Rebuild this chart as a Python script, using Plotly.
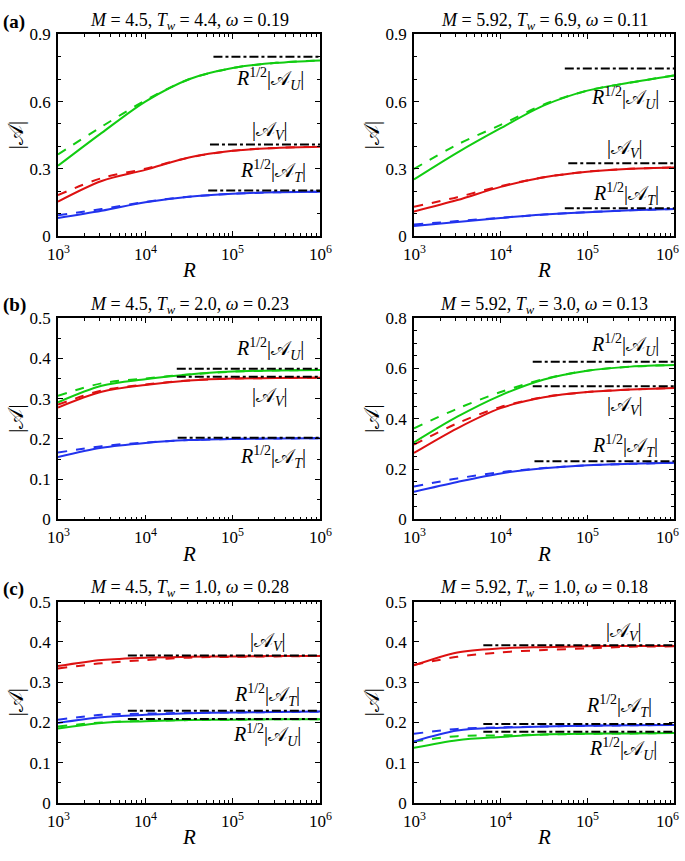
import plotly.graph_objects as go

# ---------------- data ----------------
LOG_R = [3.0, 3.5, 4.0, 4.5, 5.0, 5.5, 6.0]
R_VALUES = [10 ** v for v in LOG_R]
X_TICK_EXP = [3, 4, 5, 6]
X_TICK_TEXT = ["10<sup>3</sup>", "10<sup>4</sup>", "10<sup>5</sup>", "10<sup>6</sup>"]

TITLES = [
    "<i>M</i> = 4.5, <i>T<sub>w</sub></i> = 4.4, <i>ω</i> = 0.19",
    "<i>M</i> = 5.92, <i>T<sub>w</sub></i> = 6.9, <i>ω</i> = 0.11",
    "<i>M</i> = 4.5, <i>T<sub>w</sub></i> = 2.0, <i>ω</i> = 0.23",
    "<i>M</i> = 5.92, <i>T<sub>w</sub></i> = 3.0, <i>ω</i> = 0.13",
    "<i>M</i> = 4.5, <i>T<sub>w</sub></i> = 1.0, <i>ω</i> = 0.28",
    "<i>M</i> = 5.92, <i>T<sub>w</sub></i> = 1.0, <i>ω</i> = 0.18",
]
PANEL_LABELS = ["(a)", "(b)", "(c)"]

# panel (a) left
A1_U_SOLID = [0.313, 0.46, 0.60, 0.70, 0.75, 0.773, 0.784]
A1_U_DASH = [0.364, 0.488, 0.605, 0.70, 0.75, 0.773, 0.784]
A1_V_SOLID = [0.153, 0.245, 0.295, 0.35, 0.38, 0.393, 0.398]
A1_V_DASH = [0.182, 0.258, 0.30, 0.35, 0.38, 0.393, 0.398]
A1_T_SOLID = [0.08, 0.112, 0.15, 0.175, 0.188, 0.195, 0.197]
A1_T_DASH = [0.092, 0.12, 0.152, 0.175, 0.188, 0.195, 0.197]
A1_ASYM = [0.80, 0.408, 0.203]
A1_ASYM_START = [4.78, 4.74, 4.72]
# panel (a) right
A2_U_SOLID = [0.252, 0.372, 0.481, 0.583, 0.649, 0.685, 0.717]
A2_U_DASH = [0.299, 0.408, 0.496, 0.587, 0.649, 0.685, 0.717]
A2_V_SOLID = [0.109, 0.16, 0.219, 0.262, 0.287, 0.30, 0.306]
A2_V_DASH = [0.13, 0.173, 0.222, 0.262, 0.287, 0.30, 0.306]
A2_T_SOLID = [0.044, 0.062, 0.08, 0.095, 0.106, 0.114, 0.12]
A2_T_DASH = [0.051, 0.066, 0.081, 0.095, 0.106, 0.114, 0.12]
A2_ASYM = [0.748, 0.324, 0.124]
A2_ASYM_START = [4.74, 4.78, 4.74]
# panel (b) left
B1_U_SOLID = [0.291, 0.332, 0.348, 0.36, 0.367, 0.37, 0.371]
B1_U_DASH = [0.307, 0.338, 0.35, 0.36, 0.367, 0.37, 0.371]
B1_V_SOLID = [0.278, 0.317, 0.334, 0.345, 0.35, 0.351, 0.352]
B1_V_DASH = [0.285, 0.32, 0.335, 0.345, 0.35, 0.351, 0.352]
B1_T_SOLID = [0.155, 0.178, 0.19, 0.197, 0.2, 0.201, 0.2015]
B1_T_DASH = [0.166, 0.182, 0.191, 0.197, 0.2, 0.201, 0.2015]
B1_ASYM = [0.374, 0.354, 0.203]
B1_ASYM_START = [4.36, 4.36, 4.37]
# panel (b) right
B2_U_SOLID = [0.306, 0.408, 0.493, 0.556, 0.591, 0.607, 0.613]
B2_U_DASH = [0.362, 0.44, 0.506, 0.558, 0.591, 0.607, 0.613]
B2_V_SOLID = [0.264, 0.362, 0.442, 0.485, 0.506, 0.516, 0.522]
B2_V_DASH = [0.297, 0.382, 0.447, 0.486, 0.506, 0.516, 0.522]
B2_T_SOLID = [0.11, 0.149, 0.183, 0.203, 0.215, 0.221, 0.225]
B2_T_DASH = [0.131, 0.163, 0.188, 0.204, 0.215, 0.221, 0.225]
B2_ASYM = [0.626, 0.529, 0.231]
B2_ASYM_START = [4.37, 4.37, 4.39]
# panel (c) left
C1_U_SOLID = [0.185, 0.199, 0.203, 0.206, 0.207, 0.208, 0.208]
C1_U_DASH = [0.19, 0.20, 0.204, 0.206, 0.207, 0.208, 0.208]
C1_V_SOLID = [0.34, 0.355, 0.361, 0.363, 0.364, 0.365, 0.365]
C1_V_DASH = [0.334, 0.347, 0.355, 0.361, 0.363, 0.364, 0.365]
C1_T_SOLID = [0.199, 0.213, 0.219, 0.223, 0.225, 0.226, 0.227]
C1_T_DASH = [0.207, 0.219, 0.222, 0.224, 0.225, 0.226, 0.227]
C1_ASYM = [0.209, 0.366, 0.229]
C1_ASYM_START = [3.80, 3.80, 3.80]
# panel (c) right
C2_U_SOLID = [0.137, 0.156, 0.164, 0.17, 0.172, 0.173, 0.174]
C2_U_DASH = [0.153, 0.166, 0.168, 0.17, 0.172, 0.173, 0.174]
C2_V_SOLID = [0.342, 0.374, 0.384, 0.387, 0.389, 0.39, 0.39]
C2_V_DASH = [0.343, 0.363, 0.374, 0.38, 0.384, 0.388, 0.389]
C2_T_SOLID = [0.153, 0.18, 0.187, 0.19, 0.192, 0.193, 0.194]
C2_T_DASH = [0.172, 0.184, 0.188, 0.19, 0.192, 0.193, 0.194]
C2_ASYM = [0.177, 0.392, 0.196]
C2_ASYM_START = [3.80, 3.80, 3.80]

# y-axis settings per panel: (max, major step, minor step)
Y_AXES = [(0.9, 0.3, 0.1), (0.9, 0.3, 0.1), (0.5, 0.1, 0.05),
          (0.8, 0.2, 0.05), (0.5, 0.1, 0.05), (0.5, 0.1, 0.05)]

LBL_U = "<i>R</i><sup>1/2</sup>|𝒜<sub><i>U</i></sub>|"
LBL_V = "|𝒜<sub><i>V</i></sub>|"
LBL_T = "<i>R</i><sup>1/2</sup>|𝒜<sub><i>T</i></sub>|"
# label positions (log10 R, value) per panel, order U, V, T
LABEL_POS = [
    [(5.43, 0.685), (5.43, 0.46), (5.46, 0.27)],
    [(5.43, 0.60), (5.43, 0.383), (5.45, 0.168)],
    [(5.43, 0.413), (5.43, 0.30), (5.46, 0.146)],
    [(5.44, 0.676), (5.44, 0.444), (5.44, 0.277)],
    [(5.39, 0.16), (5.41, 0.395), (5.39, 0.259)],
    [(5.41, 0.125), (5.42, 0.42), (5.37, 0.23)],
]

PANELS = [
    (A1_U_SOLID, A1_U_DASH, A1_V_SOLID, A1_V_DASH, A1_T_SOLID, A1_T_DASH, A1_ASYM, A1_ASYM_START),
    (A2_U_SOLID, A2_U_DASH, A2_V_SOLID, A2_V_DASH, A2_T_SOLID, A2_T_DASH, A2_ASYM, A2_ASYM_START),
    (B1_U_SOLID, B1_U_DASH, B1_V_SOLID, B1_V_DASH, B1_T_SOLID, B1_T_DASH, B1_ASYM, B1_ASYM_START),
    (B2_U_SOLID, B2_U_DASH, B2_V_SOLID, B2_V_DASH, B2_T_SOLID, B2_T_DASH, B2_ASYM, B2_ASYM_START),
    (C1_U_SOLID, C1_U_DASH, C1_V_SOLID, C1_V_DASH, C1_T_SOLID, C1_T_DASH, C1_ASYM, C1_ASYM_START),
    (C2_U_SOLID, C2_U_DASH, C2_V_SOLID, C2_V_DASH, C2_T_SOLID, C2_T_DASH, C2_ASYM, C2_ASYM_START),
]

# ---------------- styling / layout ----------------
W, H = 685, 861
GREEN, RED, BLUE = "#11CC11", "#DD1111", "#2233EE"
FONT = "'Liberation Serif', 'Times New Roman', Times, serif"
COLS_PX = [(58, 320), (414, 674)]
ROWS_PX = [(26, 232), (316, 522), (606, 812)]

fig = go.Figure()
annotations = []


def px_x(p):
    return p / W


def px_y(p):
    return 1 - p / H


for i, panel in enumerate(PANELS):
    r, c = divmod(i, 2)
    n = i + 1
    xa = "x" if n == 1 else f"x{n}"
    ya = "y" if n == 1 else f"y{n}"
    u_s, u_d, v_s, v_d, t_s, t_d, asym, asym_start = panel
    for ys, color, dash in [(u_d, GREEN, "dash"), (v_d, RED, "dash"), (t_d, BLUE, "dash"),
                            (u_s, GREEN, "solid"), (v_s, RED, "solid"), (t_s, BLUE, "solid")]:
        fig.add_trace(go.Scatter(x=R_VALUES, y=ys, mode="lines", xaxis=xa, yaxis=ya,
                                 line=dict(color=color, width=2, dash=dash, shape="spline",
                                           smoothing=0.9),
                                 showlegend=False))
    for a, s in zip(asym, asym_start):
        fig.add_trace(go.Scatter(x=[10 ** s, 10 ** 6], y=[a, a], mode="lines", xaxis=xa, yaxis=ya,
                                 line=dict(color="black", width=2, dash="dashdot"),
                                 showlegend=False))
    x0, x1 = COLS_PX[c]
    y0, y1 = ROWS_PX[r]
    ymax, ystep, yminor = Y_AXES[i]
    nmaj = int(round(ymax / ystep))
    yvals = [round(k * ystep, 3) for k in range(nmaj + 1)]
    ytext = ["0" if v == 0 else f"{v:g}" for v in yvals]
    axis_common = dict(showline=True, linecolor="black", linewidth=1.5, mirror="ticks",
                       ticks="inside", ticklen=5, tickwidth=1, tickcolor="black",
                       showgrid=False, zeroline=False,
                       tickfont=dict(family=FONT, size=17, color="black"))
    fig.layout[("xaxis" if n == 1 else f"xaxis{n}")] = dict(
        axis_common, type="log", range=[3, 6], domain=[px_x(x0), px_x(x1)], anchor=ya,
        tickvals=[10 ** e for e in X_TICK_EXP], showticklabels=False,
        minor=dict(ticks="inside", ticklen=3, tickcolor="black", tickwidth=1,
                   tickvals=[m * 10 ** e for e in range(3, 6) for m in range(2, 10)]))
    fig.layout[("yaxis" if n == 1 else f"yaxis{n}")] = dict(
        axis_common, range=[0, ymax], domain=[px_y(y1), px_y(y0)], anchor=xa,
        tickvals=yvals, ticktext=ytext, ticklabelstandoff=2,
        minor=dict(ticks="inside", ticklen=3, tickcolor="black", tickwidth=1, dtick=yminor))
    # x tick labels (placed on the log axis)
    for e, txt in zip(X_TICK_EXP, X_TICK_TEXT):
        shift = -7 if (c == 1 and e == 6) else 0
        annotations.append(dict(text=txt, x=e, xref=xa, y=px_y(y1 + 4), yref="paper",
                                showarrow=False, xshift=shift,
                                font=dict(family=FONT, size=17, color="black"),
                                xanchor="center", yanchor="top"))
    # title
    annotations.append(dict(text=TITLES[i], x=px_x((x0 + x1) / 2), y=px_y(y0 - 13),
                            xref="paper", yref="paper", showarrow=False,
                            font=dict(family=FONT, size=18, color="black"),
                            xanchor="center", yanchor="middle"))
    # axis titles
    annotations.append(dict(text="<i>R</i>", x=px_x((x0 + x1) / 2), y=px_y(y1 + 35),
                            xref="paper", yref="paper", showarrow=False,
                            font=dict(family=FONT, size=21, color="black"),
                            xanchor="center", yanchor="middle"))
    annotations.append(dict(text="|𝒜|", x=px_x(x0 - 42), y=px_y((y0 + y1) / 2),
                            xref="paper", yref="paper", showarrow=False, textangle=-90,
                            font=dict(family=FONT, size=21, color="black"),
                            xanchor="center", yanchor="middle"))
    # curve labels
    for (lx, ly), txt in zip(LABEL_POS[i], [LBL_U, LBL_V, LBL_T]):
        annotations.append(dict(text=txt, x=lx, y=ly, xref=xa, yref=ya, showarrow=False,
                                yshift=4 if "sup" in txt else 2,
                                font=dict(family=FONT, size=20, color="black"),
                                xanchor="center", yanchor="middle"))
    if c == 0:
        annotations.append(dict(text="<b>" + PANEL_LABELS[r] + "</b>", x=px_x(1), y=px_y(y0 - 13),
                                xref="paper", yref="paper", showarrow=False,
                                font=dict(family=FONT, size=19, color="black"),
                                xanchor="left", yanchor="middle"))

fig.update_layout(width=W, height=H, margin=dict(l=0, r=0, t=0, b=0),
                  paper_bgcolor="white", plot_bgcolor="white",
                  annotations=annotations, showlegend=False)
fig.write_html("out.html", config={"displayModeBar": False},
               post_script="document.body.style.margin='0';")
